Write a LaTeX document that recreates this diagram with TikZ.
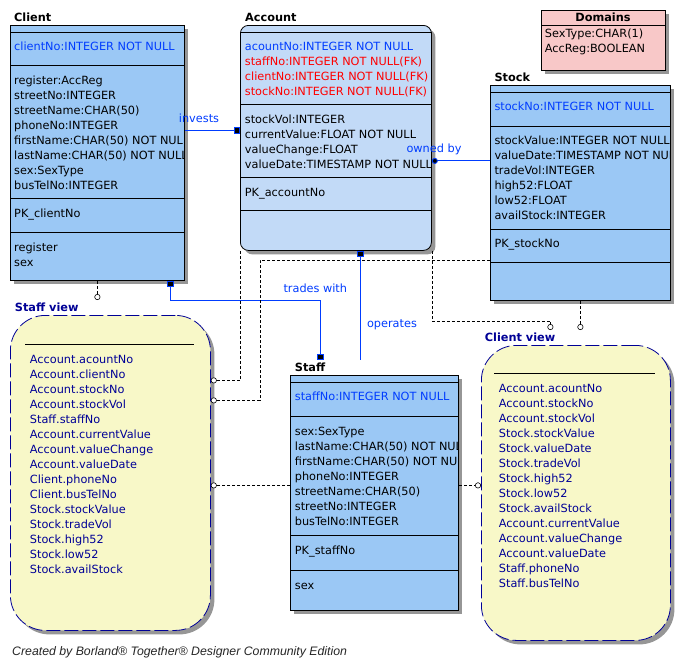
\documentclass[tikz,border=0pt]{standalone}
\usepackage{fontspec}
\setmainfont{DejaVu Sans}
\newfontfamily\footfont{Liberation Sans}
\usepackage{xcolor}
\usetikzlibrary{arrows.meta, positioning, calc, shadows}

\definecolor{entblue}{RGB}{155,200,245}
\definecolor{accblue}{RGB}{194,218,247}
\definecolor{dompink}{RGB}{248,200,200}
\definecolor{viewyellow}{RGB}{248,248,200}
\definecolor{viewnavy}{RGB}{0,0,150}
\definecolor{pkblue}{RGB}{0,60,255}
\definecolor{fkred}{RGB}{255,0,0}
\definecolor{shadowgray}{RGB}{150,150,150}
\newcommand{\erfont}{\fontsize{11.3}{15}\selectfont}

\begin{document}
\begin{tikzpicture}[x=1pt, y=-1pt,
  entity/.style={draw, line width=0.8pt, fill=entblue, anchor=north west, inner sep=0pt,
    drop shadow={shadow xshift=4pt, shadow yshift=-4pt, fill=shadowgray, opacity=1}},
  view/.style={draw=viewnavy, line width=0.8pt, dash pattern=on 14pt off 4pt, fill=viewyellow,
    rounded corners=35pt, anchor=north west, inner sep=0pt,
    drop shadow={shadow xshift=4pt, shadow yshift=-4pt, fill=shadowgray, opacity=1}},
  title/.style={anchor=base west, inner sep=0pt, font=\erfont\bfseries},
  rows/.style={anchor=north west, inner sep=0pt, align=left, font=\erfont},
  lbl/.style={anchor=base, inner sep=0pt, font=\erfont, text=pkblue},
  rel/.style={draw=pkblue, line width=0.9pt},
  dep/.style={draw, line width=0.6pt, dash pattern=on 3pt off 2pt, -{Circle[length=6pt, fill=white]}},
  mk/.tip={Square[length=6pt, width=6pt, fill=black]},
]
\fill[white] (0,0) rectangle (681,665);
\useasboundingbox (0,0) rectangle (681,665);

% tables
\node[entity, minimum width=174pt, minimum height=255pt] (client) at (10,25) {};
\node[entity, fill=accblue, rounded corners=8pt, minimum width=191pt, minimum height=225pt] (account) at (240,25) {};
\node[entity, minimum width=180pt, minimum height=215pt] (stock) at (490,85) {};
\node[entity, minimum width=168pt, minimum height=235pt] (staff) at (290,375) {};
\node[entity, fill=dompink, minimum width=124pt, minimum height=60pt] (domains) at (541,10) {};

\foreach \d in {7,40,173,207} \draw[line width=0.8pt] ([yshift=-\d pt]client.north west) -- ([yshift=-\d pt]client.north east);
\foreach \d in {7,79,152,185} \draw[line width=0.8pt] ([yshift=-\d pt]account.north west) -- ([yshift=-\d pt]account.north east);
\foreach \d in {7,41,144,177} \draw[line width=0.8pt] ([yshift=-\d pt]stock.north west) -- ([yshift=-\d pt]stock.north east);
\foreach \d in {7,41,160,195} \draw[line width=0.8pt] ([yshift=-\d pt]staff.north west) -- ([yshift=-\d pt]staff.north east);
\draw[line width=0.8pt] ([yshift=-15pt]domains.north west) -- ([yshift=-15pt]domains.north east);

\node[title] (client-t) at (14,21.8) {Client};
\node[title] (account-t) at (245,21.8) {Account};
\node[title] (stock-t) at (494.3,81.8) {Stock};
\node[title] (staff-t) at (294.7,371.8) {Staff};
\node[title, anchor=base] (domains-t) at (603,21.8) {Domains};

\begin{scope}
\clip (client.north west) rectangle (client.south east);
\node[rows, text=pkblue] (client-pk) at (14,39.3) {\strut clientNo:INTEGER NOT NULL};
\node[rows] (client-at) at (14,73.9) {\strut register:AccReg\\streetNo:INTEGER\\streetName:CHAR(50)\\phoneNo:INTEGER\\firstName:CHAR(50) NOT NULL\\lastName:CHAR(50) NOT NULL\\sex:SexType\\busTelNo:INTEGER};
\node[rows] (client-key) at (14,206.3) {\strut PK\_clientNo};
\node[rows] (client-ix) at (14,240.6) {\strut register\\sex};
\end{scope}

\begin{scope}
\clip (account.north west) rectangle (account.south east);
\node[rows, text=fkred] (account-pk) at (244.7,39.3) {\strut\textcolor{pkblue}{acountNo:INTEGER NOT NULL}\\staffNo:INTEGER NOT NULL(FK)\\clientNo:INTEGER NOT NULL(FK)\\stockNo:INTEGER NOT NULL(FK)};
\node[rows] (account-at) at (244.7,112.6) {\strut stockVol:INTEGER\\currentValue:FLOAT NOT NULL\\valueChange:FLOAT\\valueDate:TIMESTAMP NOT NULL};
\node[rows] (account-key) at (244.7,185.9) {\strut PK\_accountNo};
\end{scope}

\begin{scope}
\clip (stock.north west) rectangle (stock.south east);
\node[rows, text=pkblue] (stock-pk) at (494.3,99.6) {\strut stockNo:INTEGER NOT NULL};
\node[rows] (stock-at) at (494.3,133.6) {\strut stockValue:INTEGER NOT NULL\\valueDate:TIMESTAMP NOT NULL\\tradeVol:INTEGER\\high52:FLOAT\\low52:FLOAT\\availStock:INTEGER};
\node[rows] (stock-key) at (494.3,236.6) {\strut PK\_stockNo};
\end{scope}

\begin{scope}
\clip (staff.north west) rectangle (staff.south east);
\node[rows, text=pkblue] (staff-pk) at (294.7,389.6) {\strut staffNo:INTEGER NOT NULL};
\node[rows] (staff-at) at (294.7,424.6) {\strut sex:SexType\\lastName:CHAR(50) NOT NULL\\firstName:CHAR(50) NOT NULL\\phoneNo:INTEGER\\streetName:CHAR(50)\\streetNo:INTEGER\\busTelNo:INTEGER};
\node[rows] (staff-key) at (294.7,543.6) {\strut PK\_staffNo};
\node[rows] (staff-ix) at (294.7,578.6) {\strut sex};
\end{scope}

\node[rows] (domains-at) at (544.7,26.9) {\strut SexType:CHAR(1)\\AccReg:BOOLEAN};

% views
\node[view, minimum width=200pt, minimum height=315pt] (sview) at (10,315) {};
\node[view, minimum width=189pt, minimum height=295pt] (cview) at (481,345) {};
\draw[line width=0.8pt] ([xshift=15pt, yshift=-29pt]sview.north west) -- ([xshift=-17pt, yshift=-29pt]sview.north east);
\draw[line width=0.8pt] ([xshift=13pt, yshift=-28.3pt]cview.north west) -- ([xshift=-16pt, yshift=-28.3pt]cview.north east);
\node[title, text=viewnavy] (sview-t) at (14.7,311.8) {Staff view};
\node[title, text=viewnavy] (cview-t) at (484.7,341.8) {Client view};
\node[rows, text=viewnavy] (sview-at) at (29.7,352.6) {\strut Account.acountNo\\Account.clientNo\\Account.stockNo\\Account.stockVol\\Staff.staffNo\\Account.currentValue\\Account.valueChange\\Account.valueDate\\Client.phoneNo\\Client.busTelNo\\Stock.stockValue\\Stock.tradeVol\\Stock.high52\\Stock.low52\\Stock.availStock};
\node[rows, text=viewnavy] (cview-at) at (498.7,381.9) {\strut Account.acountNo\\Account.stockNo\\Account.stockVol\\Stock.stockValue\\Stock.valueDate\\Stock.tradeVol\\Stock.high52\\Stock.low52\\Stock.availStock\\Account.currentValue\\Account.valueChange\\Account.valueDate\\Staff.phoneNo\\Staff.busTelNo};

% relationships
\coordinate (inv) at ([yshift=22.5pt]client.east);
\coordinate (own) at ([yshift=-23pt]account.east);
\coordinate (trd) at ([xshift=73pt]client.south);
\coordinate (stafftop) at ([yshift=15pt]staff.north);
\coordinate (trd2) at ([xshift=-54pt]stafftop);
\coordinate (opr) at ([xshift=24.5pt]account.south);
\draw[rel, -{mk}] (inv) -- (inv -| account.west);
\draw[rel, -{Circle[length=6pt, fill=black]}] (own -| stock.west) -- (own);
\draw[rel, {mk}-{mk}] (trd) -- ++(0,20) -| (trd2);
\draw[rel, {mk}-] (opr) -- (opr |- stafftop);
\node[lbl] (invests-l) at (199,122.5) {invests};
\node[lbl] (owned-l) at (434,152.5) {owned by};
\node[lbl] (trades-l) at (315.3,292.5) {trades with};
\node[lbl] (operates-l) at (392,327.8) {operates};

% view dependencies
\coordinate (svtop) at ([yshift=15pt]sview.north);
\coordinate (cvtop) at ([yshift=15pt]cview.north);
\coordinate (sf-w) at ([yshift=7.5pt]staff.west);
\coordinate (sf-e) at ([yshift=7.5pt]staff.east);
\draw[dep] (client.south) -- (client.south |- svtop);
\draw[dep] (account.south west) |- ([yshift=92.5pt]sview.east);
\draw[dep] ([yshift=-67.5pt]stock.west) -- ++(-230,0) |- ([yshift=72.5pt]sview.east);
\draw[dep] (sf-w) -- (sf-w -| sview.east);
\draw[dep] (account.south east) -- ++(0,70) -| ([xshift=-25.5pt]cvtop);
\draw[dep] (stock.south) -- (stock.south |- cvtop);
\draw[dep] (sf-e) -- (sf-e -| cview.west);

\node[anchor=base west, inner sep=0pt, text=black!85, font=\footfont\itshape\fontsize{12.3}{14}\selectfont] (credit) at (12,655.5) {Created by Borland® Together® Designer Community Edition};
\end{tikzpicture}
\end{document}
